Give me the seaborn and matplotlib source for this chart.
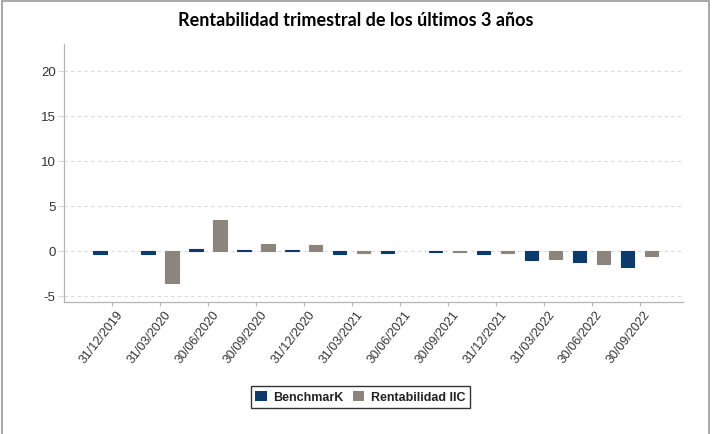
import pandas as pd
import matplotlib.pyplot as plt
import matplotlib.transforms as mtransforms
import seaborn as sns
from matplotlib.patches import Rectangle

# Quarterly data
fechas = ["31/12/2019", "31/03/2020", "30/06/2020", "30/09/2020", "31/12/2020",
          "31/03/2021", "30/06/2021", "30/09/2021", "31/12/2021", "31/03/2022",
          "30/06/2022", "30/09/2022"]
benchmark = [-0.4, -0.3, 0.2, 0.1, 0.1, -0.3, -0.2, -0.15, -0.3, -1.0, -1.2, -1.8]
rentabilidad = [0.0, -3.6, 3.4, 0.75, 0.65, -0.25, 0.0, -0.15, -0.25, -0.9, -1.45, -0.6]

df = pd.DataFrame({
    "fecha": fechas * 2,
    "valor": benchmark + rentabilidad,
    "serie": ["BenchmarK"] * len(fechas) + ["Rentabilidad IIC"] * len(fechas),
})

sns.set_style("white")
plt.rcParams["font.family"] = ["Liberation Sans", "DejaVu Sans"]
plt.rcParams["axes.unicode_minus"] = False

fig = plt.figure(figsize=(7.12, 4.35), dpi=100)
ax = fig.add_axes([0.09, 0.303, 0.869, 0.594])

sns.barplot(data=df, x="fecha", y="valor", hue="serie", ax=ax,
            palette=["#0b3a6b", "#8c857d"], width=1.0, gap=0.45,
            saturation=1, legend=True)
# thin edge in the bar colour so tiny values stay visible (not for zero bars)
for p in ax.patches:
    if abs(p.get_height()) > 0:
        p.set_edgecolor(p.get_facecolor())
        p.set_linewidth(0.8)
    else:
        p.set_linewidth(0)

ax.set_ylim(-5.7, 23)
ax.set_xlim(-1, 11.9)
ax.set_yticks([-5, 0, 5, 10, 15, 20])
ax.yaxis.grid(True, linestyle=(0, (3, 3)), color="#d9d9d9", linewidth=0.8)
ax.set_axisbelow(True)
ax.set_xlabel("")
ax.set_ylabel("")
sns.despine(ax=ax)
for s in ["left", "bottom"]:
    ax.spines[s].set_color("#b5b5b5")
    ax.spines[s].set_linewidth(0.9)
ax.tick_params(axis="y", length=4, color="#d9d9d9", labelsize=9.5,
               labelcolor="#333333", left=True, pad=2)
ax.tick_params(axis="x", length=3, color="#b5b5b5", labelsize=9,
               labelcolor="#333333", bottom=True, pad=1)
offset = mtransforms.ScaledTranslation(4 / 100, 0, fig.dpi_scale_trans)
for lab in ax.get_xticklabels():
    lab.set_rotation(52)
    lab.set_ha("right")
    lab.set_rotation_mode("anchor")
    lab.set_transform(lab.get_transform() + offset)

handles, labels = ax.get_legend_handles_labels()
ax.legend_.remove()
leg = fig.legend(handles, labels, loc="center", bbox_to_anchor=(0.506, 0.085),
                 ncol=2, frameon=True, fancybox=False, edgecolor="black",
                 handlelength=0.9, handleheight=0.9,
                 handletextpad=0.5, columnspacing=0.8, borderpad=0.35,
                 prop={"family": "Liberation Sans", "weight": "bold", "size": 9})
leg.get_frame().set_linewidth(1.0)
for t in leg.get_texts():
    t.set_color("#222222")

fig.text(0.5, 0.953, "Rentabilidad trimestral de los últimos 3 años",
         ha="center", va="center", fontsize=13, fontweight="bold",
         color="black", family=["Lato", "DejaVu Sans"])

# frame around the whole chart
fig.patches.append(Rectangle((0.003, -0.05), 0.993, 1.045, transform=fig.transFigure,
                             fill=False, edgecolor="#9a9a9a", linewidth=1.2))

fig.savefig("out.png", dpi=100)
